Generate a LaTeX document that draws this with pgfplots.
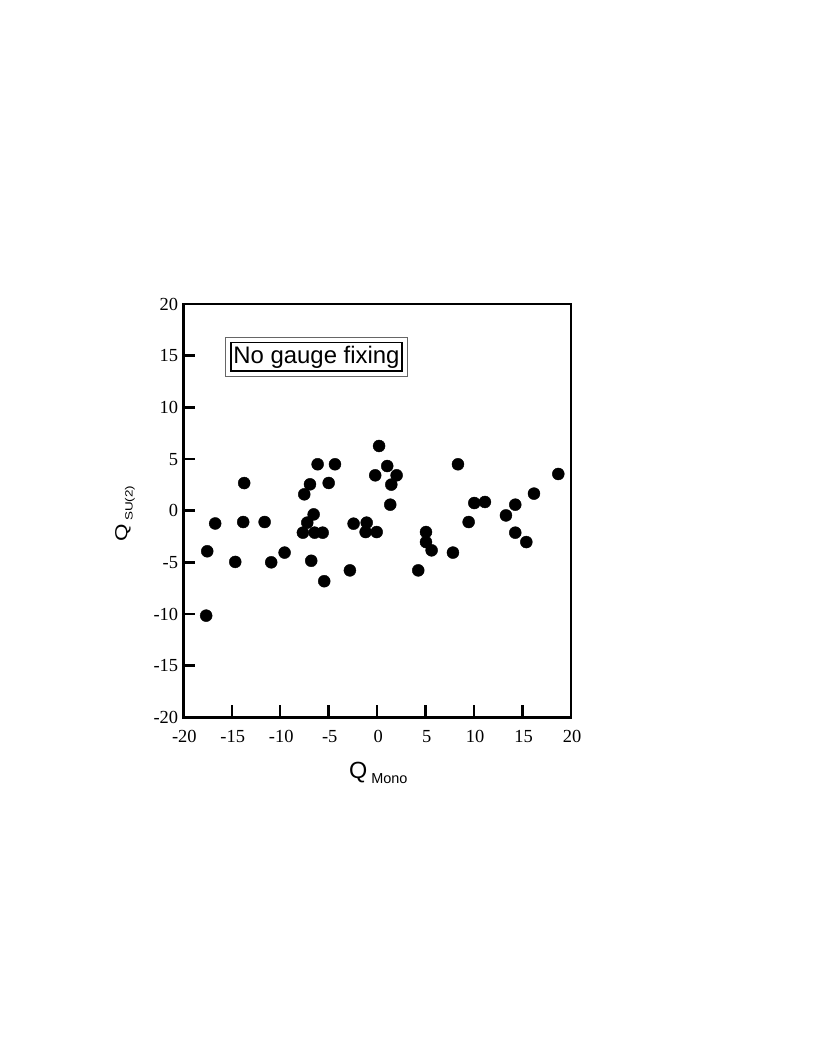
\documentclass[border=0pt]{standalone}
\usepackage{pgfplots}
\pgfplotsset{compat=1.18}
\usepackage{graphicx}
\usepackage{fontspec}
\setmainfont{Liberation Serif}
\newfontfamily\helv{Liberation Sans}

\pgfplotstableread{
x y
-17.64 -10.16
-17.53 -3.93
-16.71 -1.24
-14.64 -4.96
-13.82 -1.10
-13.72 2.67
-11.61 -1.10
-10.93 -5.00
-9.55 -4.06
-7.52 1.58
-6.93 2.55
-6.14 4.49
-4.35 4.49
-5.00 2.68
-6.55 -0.36
-7.21 -1.16
-7.66 -2.13
-6.45 -2.13
-5.62 -2.13
-6.80 -4.85
-5.46 -6.83
-2.81 -5.78
-2.43 -1.26
-1.08 -1.16
-1.19 -2.07
-0.05 -2.07
-0.20 3.42
0.20 6.26
1.04 4.32
2.01 3.42
1.46 2.52
1.35 0.58
5.04 -2.07
5.04 -3.04
5.62 -3.84
4.24 -5.78
7.82 -4.06
8.34 4.49
9.44 -1.10
10.02 0.74
11.12 0.84
13.29 -0.46
14.25 0.58
14.25 -2.13
15.39 -3.04
16.18 1.65
18.69 3.55
}\datatable

\begin{document}
\begin{tikzpicture}
\path[use as bounding box] (0,0) rectangle (817bp,-1058bp);
\begin{axis}[
  at={(183.3bp,-717.3bp)}, anchor=south west,
  width=387.7bp, height=413.3bp, scale only axis,
  xmin=-20, xmax=20, ymin=-20, ymax=20,
  axis line style={line width=2.6bp},
  xtick={-20,-15,...,20}, ytick={-20,-15,...,20},
  xticklabels={-20,-15,-10,-5,0,5,10,15,20},
  yticklabels={-20,-15,-10,-5,0,5,10,15,20},
  tick align=inside, xtick pos=left, ytick pos=left,
  major tick length=12bp,
  tick style={line width=2.4bp, black},
  ticklabel style={font=\fontsize{18.5}{18.5}\selectfont},
  xticklabel style={anchor=north, text height=12.5bp, text depth=0pt, inner sep=0pt, yshift=-12bp, xshift=1bp},
  yticklabel style={anchor=east, text height=12.5bp, text depth=0pt, inner sep=0pt, xshift=-5bp},
  xlabel={\helv\fontsize{23.5}{23.5}\selectfont Q\hspace{4bp}\raisebox{-5bp}{\fontsize{14.5}{14.5}\selectfont Mono}},
  xlabel style={at={(axis description cs:0.503,-0.1336)}, anchor=center},
  ylabel={\scalebox{1}[0.78]{\helv\fontsize{22.5}{22.5}\selectfont Q\hspace{3bp}\raisebox{-7bp}{\fontsize{13.5}{13.5}\selectfont SU(2)}}},
  ylabel style={at={(axis description cs:-0.1504,0.4931)}, anchor=center},
  clip=false,
]
\addplot[only marks, mark=*, mark size=6bp, mark options={fill=black, draw=black}] table[x=x,y=y] {\datatable};
\node (lab) [draw=black, line width=1.6bp, inner sep=0pt, minimum width=171bp, minimum height=28.5bp, fill=white,
  font=\helv\fontsize{24}{24}\selectfont] at (axis cs:-6.26,14.88) {No gauge fixing};
\draw[black!60, line width=1bp] ([shift={(-4.3bp,-4.3bp)}]lab.south west) rectangle ([shift={(4.3bp,4.3bp)}]lab.north east);
\end{axis}
\end{tikzpicture}
\end{document}
